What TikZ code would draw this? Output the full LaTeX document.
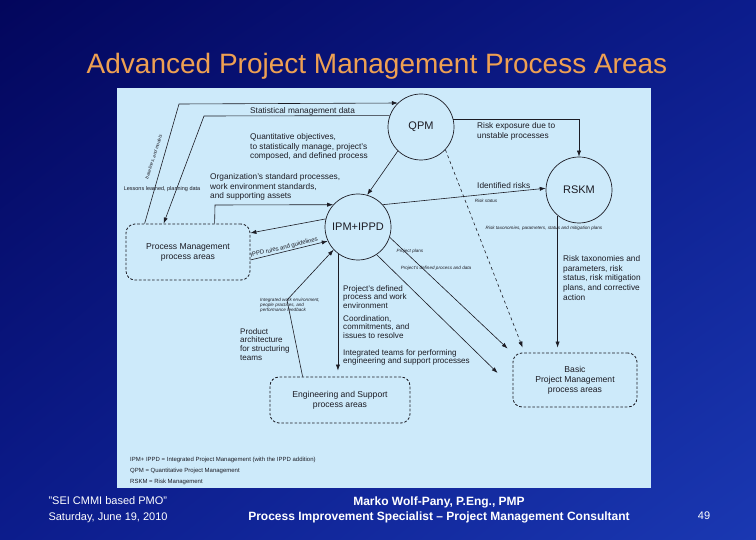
\documentclass[tikz,border=0pt]{standalone}
\usepackage{fontspec}
\setmainfont{Liberation Sans}
\usepackage{tikz}
\usetikzlibrary{calc,arrows.meta,shadings}

\definecolor{navydark}{RGB}{3,6,92}
\definecolor{navymid}{RGB}{12,28,140}
\definecolor{navylight}{RGB}{26,56,178}
\definecolor{titleorange}{RGB}{238,160,82}
\definecolor{panelblue}{RGB}{205,234,250}
\definecolor{ink}{RGB}{28,28,36}

\tikzset{
  area/.style={circle,draw=ink,line width=0.7pt,minimum size=66pt,inner sep=0pt,
    font=\fontsize{11}{12}\selectfont,text=ink},
  pabox/.style={draw=ink,line width=0.8pt,dash pattern=on 2.6pt off 1.8pt,
    rounded corners=9pt,align=center,font=\fontsize{8.6}{10}\selectfont,text=ink},
  flow/.style={draw=ink,line width=0.6pt,-{Latex[length=6pt,width=4.2pt]}},
  note/.style={anchor=north west,align=left,inner sep=0pt,text=ink,
    font=\fontsize{8.3}{9.8}\selectfont},
  tightnote/.style={note,font=\fontsize{8.1}{8.8}\selectfont},
  smudge/.style={inner sep=0pt,text=ink,font=\fontsize{4.6}{5}\selectfont\itshape},
}

\begin{document}
\begin{tikzpicture}[x=1pt,y=-1pt]
\useasboundingbox (0,0) rectangle (756,540);
% slide background
\shade[upper left=navydark,upper right=navymid,lower left=navymid,lower right=navylight]
  (0,0) rectangle (756,540);
\fill[panelblue] (117,88) rectangle (651,488);

\node[text=titleorange,font=\fontsize{28}{30}\selectfont] (title) at (377,66)
  {Advanced Project Management Process Areas};

% process areas
\node[area] (qpm) at (421,127) {QPM};
\node[area] (rskm) at (579,190) {RSKM};
\node[area] (ipm) at (358,227) {IPM+IPPD};
\node[pabox,minimum width=124pt,minimum height=56pt] (pm) at (188,252)
  {Process Management\\process areas};
\node[pabox,minimum width=140pt,minimum height=46pt] (eng) at (340,400)
  {Engineering and Support\\process areas};
\node[pabox,minimum width=124pt,minimum height=54pt] (bpm) at (575,380)
  {Basic\\Project Management\\process areas};

% corners of the connectors
\coordinate (smd) at (179,104);
\coordinate (ppo) at (204,116);
\coordinate (osp) at (215,205);
\coordinate (kink) at (287,300);

\draw[flow] ($(pm.north west)+(19,0)$) -- (smd) -- (qpm.134);
\draw[flow] (qpm.160) -- (ppo) -- ($(pm.north west)+(38,0)$);
\draw[flow] ($(pm.north west)+(89,0)$) -- (osp) -- (ipm.138);
\draw[flow] (qpm.226) -- (ipm.74);
\draw[flow] (qpm.13) -| (rskm.north);
\draw[flow] (ipm.42) -- (rskm.177);
\draw[flow,dashed] (qpm.-43) -- ($(bpm.north west)+(10,-5)$);
\draw[flow] (ipm.-18) -- ($(bpm.north west)+(-5,-4)$);
\draw[flow] (ipm.-56) -- ($(bpm.west)+(-15,-7)$);
\draw[flow] (rskm.230) -- ($(rskm.230 |- bpm.north)+(0,-5)$);
\draw[flow] (ipm.233) -- ($(ipm.233 |- eng.north)+(0,-6)$);
\draw[flow] ($(eng.north west)+(33,0)$) -- (kink) -- (ipm.223);
\draw[flow] (ipm.166) -- ($(pm.east)+(0,-19)$);
\draw[flow] ($(pm.east)+(0,8)$) -- (ipm.205)
  node[pos=0.45,sloped,above=1pt,inner sep=0pt,text=ink,font=\fontsize{6}{7}\selectfont]
  {IPPD rules and guidelines};

% labels
\node[note,anchor=west] at (250,111) {Statistical management data};
\node[note] at (250,133) {Quantitative objectives,\\to statistically manage, project's\\composed, and defined process};
\node[note] at (210,173) {Organization's standard processes,\\work environment standards,\\and supporting assets};
\node[note] at (477,122) {Risk exposure due to\\unstable processes};
\node[note,anchor=west] at (477,186) {Identified risks};
\node[note] at (563,255) {Risk taxonomies and\\parameters, risk\\status, risk mitigation\\plans, and corrective\\action};
\node[tightnote] at (343,285) {Project's defined\\process and work\\environment};
\node[tightnote] at (343,315) {Coordination,\\commitments, and\\issues to resolve};
\node[tightnote] at (343,349) {Integrated teams for performing\\engineering and support processes};
\node[tightnote] at (240,328) {Product\\architecture\\for structuring\\teams};

% small blurred labels
\node[smudge,rotate=72] at (154,157) {baselines, and models};
\node[smudge,font=\fontsize{5.5}{6}\selectfont] at (162,189) {Lessons learned, planning data};
\node[smudge] at (486,201) {Risk status};
\node[smudge] at (544,228) {Risk taxonomies, parameters, status and mitigation plans};
\node[smudge] at (410,251) {Project plans};
\node[smudge] at (436,268) {Project's defined process and data};
\node[smudge,align=left] at (290,305) {Integrated work environment,\\people practices, and\\performance feedback};

% legend
\node[note,font=\fontsize{6}{11}\selectfont] at (130,457)
  {IPM+ IPPD = Integrated Project Management (with the IPPD addition)\\QPM = Quantitative Project Management\\RSKM = Risk Management};

% footer
\node[anchor=west,text=white,align=left,font=\fontsize{11}{16}\selectfont] at (45,510)
  {"SEI CMMI based PMO"\\Saturday, June 19, 2010};
\node[text=white,align=center,font=\bfseries\fontsize{12}{15}\selectfont] at (439,510)
  {Marko Wolf-Pany, P.Eng., PMP\\Process Improvement Specialist -- Project Management Consultant};
\node[text=white,font=\fontsize{11}{13}\selectfont] at (704,516) {49};
\end{tikzpicture}
\end{document}
